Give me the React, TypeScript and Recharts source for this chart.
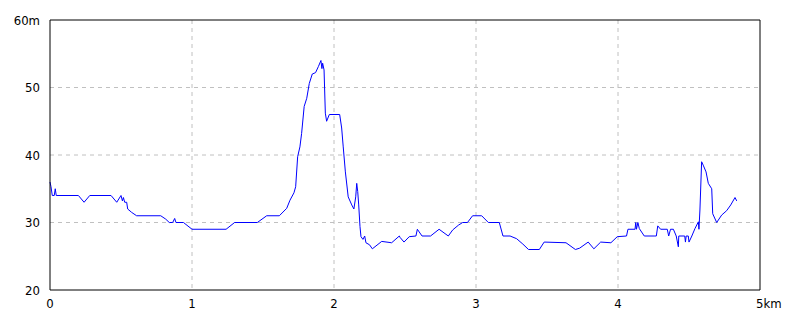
import React from "react";
import {
	LineChart,
	Line,
	CartesianGrid,
	XAxis,
	YAxis,
	ReferenceLine,
} from "recharts";

// distance along the route (km)
const distanceKm = [
	0, 0.007, 0.016, 0.03, 0.037, 0.044, 0.2, 0.24, 0.28, 0.43, 0.47, 0.5, 0.51,
	0.517, 0.526, 0.54, 0.547, 0.575, 0.61, 0.78, 0.815, 0.84, 0.864, 0.878,
	0.887, 0.94, 1.0, 1.24, 1.3, 1.46, 1.526, 1.615, 1.667, 1.69, 1.718, 1.73,
	1.744, 1.76, 1.772, 1.79, 1.808, 1.826, 1.847, 1.87, 1.89, 1.908, 1.915,
	1.92, 1.93, 1.939, 1.948, 1.967, 2.04, 2.054, 2.065, 2.08, 2.1, 2.125, 2.14,
	2.153, 2.16, 2.167, 2.174, 2.183, 2.19, 2.204, 2.216, 2.225, 2.25, 2.27,
	2.336, 2.406, 2.46, 2.465, 2.493, 2.53, 2.577, 2.587, 2.6, 2.62, 2.68, 2.74,
	2.805, 2.836, 2.876, 2.906, 2.94, 2.976, 3.04, 3.087, 3.164, 3.19, 3.24,
	3.286, 3.33, 3.37, 3.446, 3.48, 3.634, 3.7, 3.73, 3.79, 3.83, 3.878, 3.95,
	3.995, 4.06, 4.07, 4.12, 4.125, 4.13, 4.14, 4.15, 4.185, 4.26, 4.27, 4.28,
	4.3, 4.347, 4.357, 4.37, 4.39, 4.41, 4.425, 4.428, 4.47, 4.475, 4.48, 4.495,
	4.5, 4.52, 4.542, 4.566, 4.57, 4.577, 4.589, 4.6, 4.62, 4.636, 4.66, 4.667,
	4.695, 4.73, 4.765, 4.794, 4.824, 4.836,
];

// elevation (m)
const elevationM = [
	36, 35.3, 34, 34, 35, 34, 34, 33, 34, 34, 33, 34, 33.2, 33.7, 33, 33, 32,
	31.5, 31, 31, 30.5, 30, 30, 30.6, 30, 30, 29, 29, 30, 30, 31, 31, 32.1, 33.3,
	34.4, 35.3, 39.75, 41.2, 43.2, 47.2, 48.4, 50.6, 52, 52.2, 53.1, 54, 52.8,
	53.6, 52.6, 46.2, 45, 46, 46, 44, 41.2, 37.5, 33.8, 32.6, 32, 33.8, 35.8,
	34.6, 32.6, 29.4, 27.9, 27.5, 28, 27, 26.7, 26.1, 27.2, 27, 28, 27.8, 27.1,
	27.9, 28, 29, 28.6, 28, 28, 29, 28, 28.9, 29.6, 30, 30, 31, 31, 30, 30, 28,
	28, 27.6, 26.8, 26, 26, 27.1, 27, 26, 26.2, 27.1, 26.1, 27.1, 27, 27.9, 28,
	29, 29, 30, 29, 30, 29.1, 28, 28, 28, 29.5, 29, 29, 28, 29, 29, 28, 26.4, 28,
	28, 27.1, 28, 28, 27.1, 28, 29.1, 30.1, 29, 31.85, 39, 38.5, 37.5, 35.8, 35,
	31.3, 30, 31.1, 31.75, 32.6, 33.7, 33.2,
];

const xTicks = [0, 1, 2, 3, 4, 5];
const yTicks = [20, 30, 40, 50, 60];

const profile = distanceKm.map((km, i) => ({ km, elev: elevationM[i] }));

const tickFont = {
	fontFamily: "'Liberation Sans Narrow', 'DejaVu Sans Condensed', sans-serif",
	fontSize: 13,
	fill: "#000",
};

const XTick = (props: any) => {
	const { x, y, payload } = props;
	const last = payload.value === 5;
	return (
		<text
			x={last ? x - 4 : x}
			y={y + 10}
			textAnchor={last ? "start" : "middle"}
			{...tickFont}
		>
			{last ? "5km" : payload.value}
		</text>
	);
};

const App = () => {
	return (
		<div style={{ position: "absolute", left: 0, top: 0 }}>
			<LineChart
				width={800}
				height={320}
				data={profile}
				margin={{ top: 20, right: 40, bottom: 0, left: 0 }}
				style={{ background: "#fff" }}
			>
				<CartesianGrid
					stroke="#c0c0c0"
					strokeDasharray="4 4"
					horizontalValues={[30, 40, 50]}
					verticalValues={[1, 2, 3, 4]}
				/>
				<XAxis
					dataKey="km"
					type="number"
					domain={[0, 5]}
					ticks={xTicks}
					height={30}
					tickLine={false}
					axisLine={{ stroke: "#000" }}
					tick={<XTick />}
					interval={0}
				/>
				<YAxis
					type="number"
					domain={[20, 60]}
					ticks={yTicks}
					width={50}
					tickLine={false}
					axisLine={{ stroke: "#000" }}
					tick={tickFont}
					tickMargin={4}
					tickFormatter={(v) => (v === 60 ? "60m" : String(v))}
					interval={0}
				/>
				<ReferenceLine y={60} stroke="#000" />
				<ReferenceLine x={5} stroke="#000" />
				<Line
					type="linear"
					dataKey="elev"
					stroke="#0000ff"
					strokeWidth={1}
					dot={false}
					isAnimationActive={false}
				/>
			</LineChart>
		</div>
	);
};

export default App;
